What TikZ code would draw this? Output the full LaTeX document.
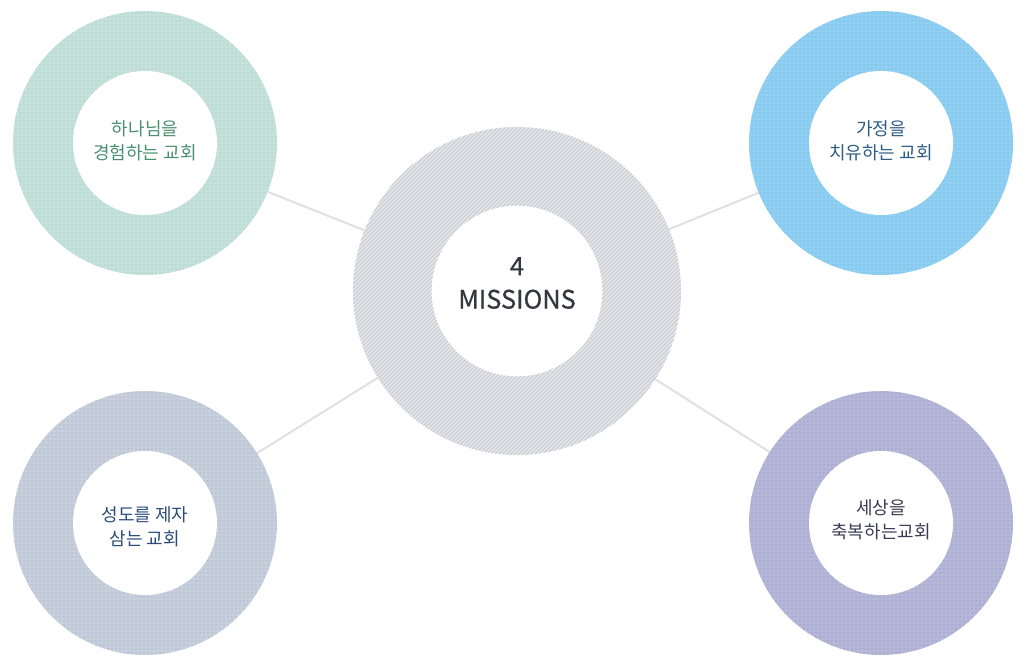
\documentclass[tikz,border=0pt]{standalone}
\usepackage{fontspec}
\setmainfont{Noto Sans CJK KR}
\newfontfamily\hubfont[FakeBold=0.6]{Noto Sans CJK KR}
\usetikzlibrary{patterns,backgrounds}

\definecolor{ringgreen}{RGB}{197,225,219}
\definecolor{dotgreen}{RGB}{150,192,180}
\definecolor{ringblue}{RGB}{143,207,242}
\definecolor{dotblue}{RGB}{100,170,220}
\definecolor{ringslate}{RGB}{198,207,219}
\definecolor{dotslate}{RGB}{150,165,188}
\definecolor{ringviolet}{RGB}{180,183,216}
\definecolor{dotviolet}{RGB}{135,138,185}
\definecolor{ringgray}{RGB}{226,228,231}
\definecolor{stripegray}{RGB}{190,195,202}
\definecolor{linkgray}{RGB}{224,224,224}
\definecolor{txtgreen}{RGB}{74,144,112}
\definecolor{txtblue}{RGB}{46,93,133}
\definecolor{txtnavy}{RGB}{44,77,122}
\definecolor{txtviolet}{RGB}{60,60,85}
\definecolor{txtdark}{RGB}{51,56,62}

\tikzset{every picture/.style={line width=0.75pt}}

\begin{document}
\begin{tikzpicture}[x=0.75pt,y=0.75pt,yscale=-1,xscale=1,
  ring/.style={circle,inner sep=0pt,outer sep=0pt,minimum size=198pt,fill=#1},
  hole/.style={circle,inner sep=0pt,outer sep=0pt,minimum size=108pt,fill=white},
  label/.style={align=center,inner sep=0pt,font=\fontsize{13.5}{18}\selectfont},
  link/.style={draw=linkgray,line width=1.5pt}]
\useasboundingbox (0,0) rectangle (1027,661);

%Center ring
\node [ring=ringgray,minimum size=246pt,postaction={pattern=north east lines,pattern color=stripegray}] (hub) at (517,291) {};
\node [hole,minimum size=128pt] (hubin) at (hub) {};
\node [label,text=txtdark,font=\hubfont\fontsize{19}{25}\selectfont] (hubtxt) at (517,283) {4\\MISSIONS};

%Top left
\node [ring=ringgreen,postaction={pattern=dots,pattern color=dotgreen}] (god) at (145,143) {};
\node [hole] (godin) at (god) {};
\node [label,text=txtgreen] (godtxt) at (145,141) {하나님을\\경험하는 교회};

%Top right
\node [ring=ringblue,postaction={pattern=dots,pattern color=dotblue}] (home) at (881,143) {};
\node [hole] (homein) at (home) {};
\node [label,text=txtblue] (hometxt) at (881,141) {가정을\\치유하는 교회};

%Bottom left
\node [ring=ringslate,postaction={pattern=dots,pattern color=dotslate}] (saint) at (145,523) {};
\node [hole] (saintin) at (saint) {};
\node [label,text=txtnavy] (sainttxt) at (145,527) {성도를 제자\\삼는 교회};

%Bottom right
\node [ring=ringviolet,postaction={pattern=dots,pattern color=dotviolet}] (world) at (881,523) {};
\node [hole] (worldin) at (world) {};
\node [label,text=txtviolet] (worldtxt) at (881,520) {세상을\\축복하는교회};

%Connectors
\begin{scope}[on background layer]
\draw [link] (hub.center) -- (god.center);
\draw [link] (hub.center) -- (home.center);
\draw [link] (hub.center) -- (saint.center);
\draw [link] (hub.center) -- (world.center);
\end{scope}

\end{tikzpicture}
\end{document}
